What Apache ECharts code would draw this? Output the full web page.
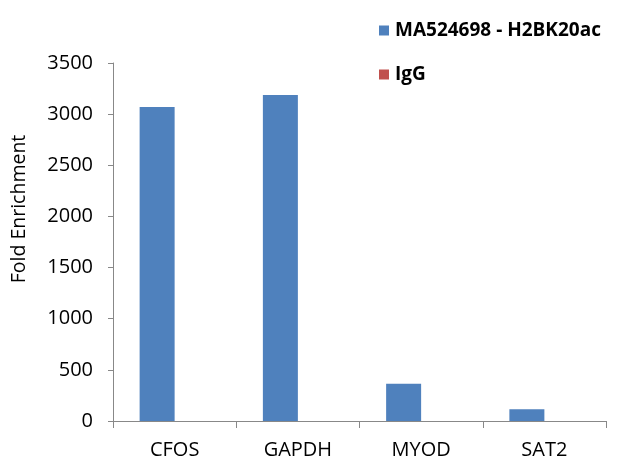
<!DOCTYPE html>
<html><head><meta charset="utf-8">
<script src="https://cdn.jsdelivr.net/npm/echarts@6/dist/echarts.min.js"></script>
<style>html,body{margin:0;padding:0;background:#fff}#c{width:641px;height:472px}</style>
</head><body><div id="c"></div>
<script>
var categories = ['CFOS', 'GAPDH', 'MYOD', 'SAT2'];
var seriesNames = ['MA524698 - H2BK20ac', 'IgG'];
var antibodyValues = [3070, 3187, 365, 114];
var iggValues = [0, 0, 0, 0];
var yTicks = [0, 500, 1000, 1500, 2000, 2500, 3000, 3500];
var yAxisTitle = 'Fold Enrichment';

var font = '"Open Sans", sans-serif';
var chart = echarts.init(document.getElementById('c'), null, {renderer: 'canvas'});
chart.setOption({
  animation: false,
  backgroundColor: '#fff',
  textStyle: {fontFamily: font},
  legend: {
    orient: 'vertical', left: 374, top: 16,
    itemWidth: 10, itemHeight: 10, itemGap: 25,
    icon: 'rect',
    textStyle: {fontSize: 19, fontWeight: 'bold', color: '#000', fontFamily: font, padding: [0, 0, 0, 1]},
    data: seriesNames
  },
  graphic: [{
    type: 'text', x: 19, y: 209, rotation: Math.PI / 2,
    style: {text: yAxisTitle, fontSize: 19.5, fill: '#000', fontFamily: font,
      textAlign: 'center', textVerticalAlign: 'middle'}
  }],
  grid: {left: 113, right: 35, top: 63, bottom: 51, containLabel: false},
  xAxis: {
    type: 'category', data: categories,
    axisLine: {lineStyle: {color: '#888', width: 1}},
    axisTick: {show: true, length: 7, alignWithLabel: false, lineStyle: {color: '#888'}},
    axisLabel: {fontSize: 20, color: '#000', margin: 19, fontFamily: font},
    splitLine: {show: false}
  },
  yAxis: {
    type: 'value', min: yTicks[0], max: yTicks[yTicks.length - 1], interval: 500,
    axisLine: {show: true, lineStyle: {color: '#888', width: 1}},
    axisTick: {show: true, length: 5, lineStyle: {color: '#888'}},
    axisLabel: {fontSize: 20, color: '#000', margin: 20, fontFamily: font,
      formatter: function (v) { return String(v); }},
    splitLine: {show: false}
  },
  series: [
    {name: seriesNames[0], type: 'bar', data: antibodyValues, barWidth: 35, barGap: '0%',
     itemStyle: {color: '#4F81BD'}},
    {name: seriesNames[1], type: 'bar', data: iggValues, barWidth: 35,
     itemStyle: {color: '#C0504D'}}
  ]
});
</script></body></html>
